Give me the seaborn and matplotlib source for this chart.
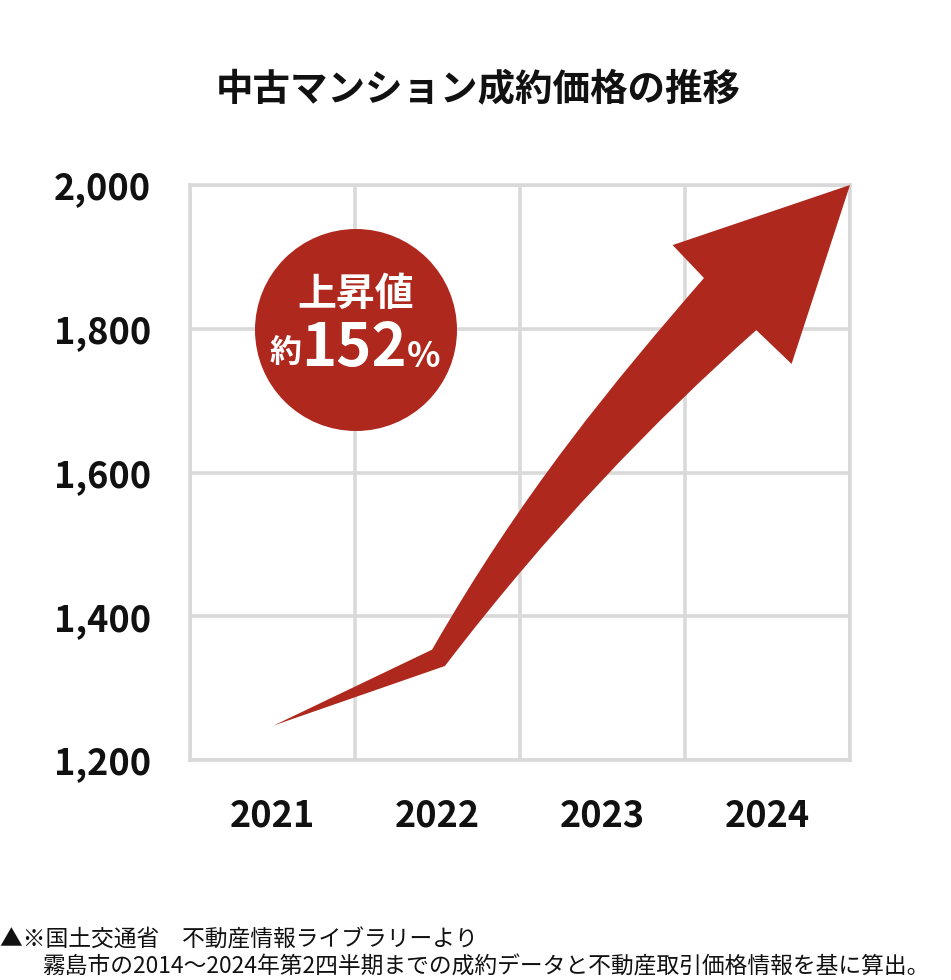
import matplotlib
matplotlib.use("Agg")
import matplotlib.pyplot as plt
from matplotlib.path import Path
from matplotlib.patches import PathPatch, Circle
import seaborn as sns

# ---- data ----
years = ["2021", "2022", "2023", "2024"]
price_ticks = [1200, 1400, 1600, 1800, 2000]
price_labels = ["1,200", "1,400", "1,600", "1,800", "2,000"]

# arrow outline (x in category units, y in price units)
arrow_x = [0.007, 0.967, 1.517, 2.065, 2.615, 2.425, 3.500, 3.146, 2.932, 2.302, 1.675, 1.045, 0.007]
arrow_price = [1248, 1353.5, 1573.5, 1724.9, 1870.6, 1916.4, 2000, 1751.1, 1798.1, 1669.0, 1519.8, 1330.8, 1248]
arrow_codes = [Path.MOVETO, Path.LINETO, Path.CURVE4, Path.CURVE4, Path.CURVE4,
               Path.LINETO, Path.LINETO, Path.LINETO, Path.LINETO,
               Path.CURVE4, Path.CURVE4, Path.CURVE4, Path.CLOSEPOLY]

title = "中古マンション成約価格の推移"
badge_top = "上昇値"
badge_pre = "約"
badge_num = "152"
badge_pct = "%"
note1 = "▲※国土交通省　不動産情報ライブラリーより"
note2 = "霧島市の2014〜2024年第2四半期までの成約データと不動産取引価格情報を基に算出。"

RED = "#AF281D"
GRID = "#D9D9D9"

sns.set_theme(style="white")
plt.rcParams["font.family"] = ["Noto Sans CJK JP", "DejaVu Sans"]

W, H = 951, 980
fig = plt.figure(figsize=(W / 100, H / 100), dpi=100)
ax = fig.add_axes([190 / W, (H - 760) / H, 660 / W, 575 / H])
ax.set_xlim(-0.5, 3.5)
ax.set_ylim(1200, 2000)

ax.set_yticks(price_ticks)
ax.set_yticklabels(price_labels)
ax.set_xticks(range(len(years)))
ax.set_xticklabels(years)
ax.set_xticks([i - 0.5 for i in range(len(years) + 1)], minor=True)
ax.grid(False)
ax.grid(True, axis="y", which="major", color=GRID, linewidth=2.6)
ax.grid(True, axis="x", which="minor", color=GRID, linewidth=2.6)
for s in ax.spines.values():
    s.set_visible(True)
    s.set_color(GRID)
    s.set_linewidth(2.6)
ax.tick_params(axis="both", which="both", length=0)
ax.tick_params(axis="y", pad=28)
ax.tick_params(axis="x", pad=27)
for lab in ax.get_yticklabels() + ax.get_xticklabels():
    lab.set_fontsize(26)
    lab.set_fontweight("bold")
    lab.set_color("#111111")

path = Path(list(zip(arrow_x, arrow_price)), arrow_codes)
ax.add_patch(PathPatch(path, facecolor=RED, edgecolor="none", zorder=5))

# badge circle (pixel space)
circ = Circle((356 / 100, (H - 330) / 100), 1.01, transform=fig.dpi_scale_trans,
              facecolor=RED, edgecolor="none", zorder=6)
fig.patches.append(circ)
fig.text(356 / W, 1 - 294 / H, badge_top, color="white", fontsize=28, fontweight="bold",
         ha="center", va="center", zorder=7)
fig.text(286 / W, 1 - 353 / H, badge_pre, color="white", fontsize=23, fontweight="bold",
         ha="center", va="center", zorder=7)
fig.text(354 / W, 1 - 349 / H, badge_num, color="white", fontsize=43, fontweight="bold",
         ha="center", va="center", zorder=7)
fig.text(424 / W, 1 - 356 / H, badge_pct, color="white", fontsize=25, fontweight="bold",
         ha="center", va="center", zorder=7)

fig.text(478 / W, 1 - 90 / H, title, fontsize=27, fontweight="bold", color="#111111",
         ha="center", va="center")
fig.text(0 / W, 1 - 940 / H, note1, fontsize=16.4, color="#111111", ha="left", va="center")
fig.text(42 / W, 1 - 967 / H, note2, fontsize=16.4, color="#111111", ha="left", va="center")

fig.savefig("out.png", dpi=100)
